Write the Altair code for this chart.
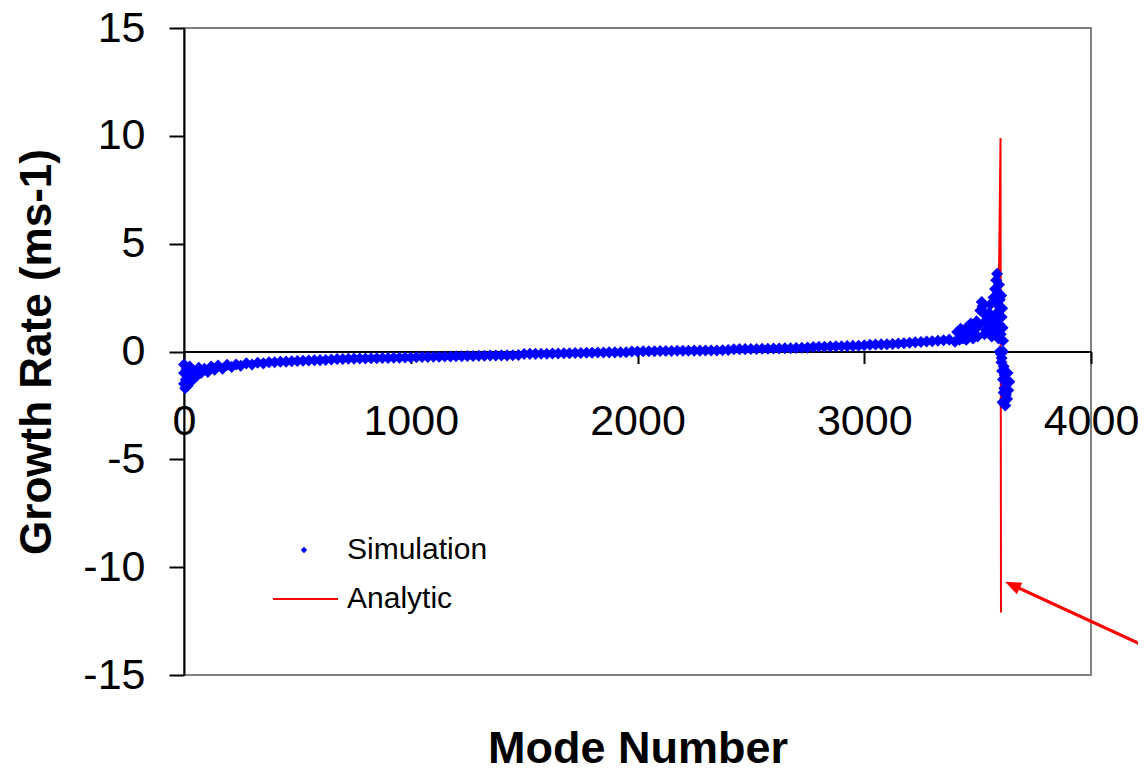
import altair as alt
import pandas as pd

FONT = "Liberation Sans"

# ---- data ----
sim_mode = [
    0, 0, 0, 5, 8, 12, 15, 20, 25, 30, 35, 45, 55, 65, 75, 90, 105, 120, 135, 150,
    170, 190, 210, 230, 250, 275, 300, 325, 350, 375, 400,
    425, 450, 475, 500, 525, 550, 575, 600, 625, 650, 675, 700, 725, 750, 775, 800,
    825, 850, 875, 900, 925, 950, 975, 1000, 1025, 1050, 1075, 1100, 1125, 1150,
    1175, 1200, 1225, 1250, 1275, 1300, 1325, 1350, 1375, 1400, 1425, 1450, 1475,
    1500, 1525, 1550, 1575, 1600, 1625, 1650, 1675, 1700, 1725, 1750, 1775, 1800,
    1825, 1850, 1875, 1900, 1925, 1950, 1975, 2000, 2025, 2050, 2075, 2100, 2125,
    2150, 2175, 2200, 2225, 2250, 2275, 2300, 2325, 2350, 2375, 2400, 2425, 2450,
    2475, 2500, 2525, 2550, 2575, 2600, 2625, 2650, 2675, 2700, 2725, 2750, 2775,
    2800, 2825, 2850, 2875, 2900, 2925, 2950, 2975, 3000, 3025, 3050, 3075, 3100,
    3125, 3150, 3175, 3200, 3225, 3250, 3275, 3300, 3325, 3350, 3375,
    3400, 3410, 3420, 3425, 3435, 3440, 3450, 3455, 3465, 3470, 3480, 3485, 3495,
    3500, 3505, 3512, 3518, 3522, 3526, 3530, 3534, 3538, 3542, 3546, 3550, 3554,
    3558, 3562, 3566, 3570, 3574, 3577, 3580, 3582, 3584, 3586, 3588, 3590, 3592,
    3594, 3596, 3598, 3600, 3602, 3604, 3606, 3608, 3610, 3612,
    3598, 3602, 3605, 3608, 3612, 3615, 3618, 3620, 3625, 3628, 3630, 3622, 3615,
    3610, 3632, 3635, 3640, 3606, 3612,
]
sim_rate = [
    -0.6, -1.0, -1.5, -1.7, -1.3, -0.8, -1.6, -1.2, -0.7, -1.1, -1.35, -0.9, -1.15,
    -0.75, -1.0, -0.8, -0.95, -0.7, -0.85, -0.65, -0.8, -0.62, -0.72, -0.6, -0.66,
    -0.55, -0.6, -0.52, -0.55, -0.5, -0.5,
    -0.47, -0.47, -0.45, -0.44, -0.43, -0.42, -0.41, -0.40, -0.39, -0.37, -0.35,
    -0.35, -0.34, -0.33, -0.32, -0.32, -0.31, -0.31, -0.30, -0.30, -0.29, -0.29,
    -0.28, -0.28, -0.27, -0.25, -0.25, -0.24, -0.24, -0.23, -0.23, -0.22, -0.22,
    -0.21, -0.21, -0.20, -0.20, -0.19, -0.19, -0.18, -0.18, -0.17, -0.16,
    -0.12, -0.11, -0.11, -0.10, -0.10, -0.09, -0.09, -0.08, -0.08, -0.07, -0.07,
    -0.06, -0.06, -0.05, -0.05, -0.04, -0.04, -0.03, -0.03, 0.0, 0.0, 0.01, 0.01,
    0.01, 0.02, 0.02, 0.02, 0.03, 0.03, 0.03, 0.04, 0.04, 0.05, 0.05, 0.05, 0.06,
    0.07, 0.10, 0.11, 0.11, 0.12, 0.12, 0.13, 0.13, 0.14, 0.14, 0.15, 0.15, 0.16,
    0.17, 0.18, 0.21, 0.22, 0.22, 0.23, 0.24, 0.24, 0.25, 0.26, 0.27, 0.29, 0.31,
    0.32, 0.33, 0.34, 0.35, 0.37, 0.38, 0.41, 0.43, 0.44, 0.46, 0.48, 0.50, 0.52,
    0.55,
    0.45, 0.9, 0.55, 1.05, 0.6, 0.95, 0.55, 1.15, 0.7, 1.3, 0.6, 1.0, 1.4,
    0.7, 1.2, 1.9, 2.3, 2.1, 1.8, 0.8, 1.4, 1.0, 1.6, 0.9, 1.8, 1.2,
    2.2, 0.7, 1.5, 2.5, 1.0, 2.9, 1.7, 3.3, 2.2, 3.6, 1.3, 2.7, 0.6,
    3.1, 1.9, 2.4, 1.2, 0.8, 2.6, 1.6, 2.0, 1.1, 0.5,
    0.0, -0.1, -0.5, -0.9, -1.3, -0.7, -1.7, -1.1, -2.0, -1.5, -2.2, -2.5, -1.9,
    -2.35, -1.0, -1.8, -1.4, -0.3, 0.0,
]
ana_mode = [0, 20, 50, 100, 200, 300, 500, 750, 1000, 1250, 1500, 1750, 2000,
            2250, 2500, 2750, 3000, 3200, 3300, 3400, 3450, 3500, 3540, 3570,
            3585, 3594, 3599, 3601, 3603]
ana_rate = [-1.2, -1.0, -0.9, -0.8, -0.68, -0.58, -0.45, -0.34, -0.28, -0.22,
            -0.15, -0.08, -0.01, 0.04, 0.11, 0.18, 0.28, 0.38, 0.44, 0.48, 0.52,
            0.65, 0.95, 1.4, 2.2, 3.3, 8.0, 9.9, -12.1]
series_names = ["Simulation", "Analytic"]
x_ticks = [0, 1000, 2000, 3000, 4000]
y_ticks = [-15, -10, -5, 0, 5, 10, 15]

# annotation arrow (start and head, in data units)
arrow_start = (4243, -13.69)
arrow_head = (3653, -10.83)

sim = pd.DataFrame({"mode": sim_mode, "rate": sim_rate, "series": series_names[0]})
ana = pd.DataFrame({"mode": ana_mode, "rate": ana_rate, "series": series_names[1]})
arrow = pd.DataFrame({"mode": [arrow_start[0]], "rate": [arrow_start[1]],
                      "mode2": [arrow_head[0]], "rate2": [arrow_head[1]]})
head = pd.DataFrame({"mode": [arrow_head[0]], "rate": [arrow_head[1]]})

xscale = alt.Scale(domain=[0, 4000], nice=False, zero=False)
yscale = alt.Scale(domain=[-15, 15], nice=False, zero=False)

xaxis = alt.Axis(
    values=x_ticks, title="Mode Number", offset=-323.5, grid=False,
    domainColor="black", domainWidth=2, tickColor="black", tickWidth=2, tickSize=12,
    labelFont=FONT, labelFontSize=43, labelColor="black", labelPadding=71,
    labelBaseline="alphabetic", labelFlush=False, labelOverlap=False,
    labelExpr="'' + datum.value",
    titleFont=FONT, titleFontSize=45, titleFontWeight="bold", titleColor="black",
    titleY=410.5, titleBaseline="alphabetic",
)
yaxis = alt.Axis(
    values=y_ticks, title="Growth Rate (ms-1)", grid=False,
    domainColor="black", domainWidth=2, tickColor="black", tickWidth=2, tickSize=15,
    labelFont=FONT, labelFontSize=43, labelColor="black", labelPadding=24,
    labelOverlap=False, labelExpr="'' + datum.value",
    titleFont=FONT, titleFontSize=44, titleFontWeight="bold", titleColor="black",
    titleX=-147, titleBaseline="middle",
)

X = alt.X("mode:Q", scale=xscale, axis=xaxis)
Y = alt.Y("rate:Q", scale=yscale, axis=yaxis)

line = alt.Chart(ana).mark_line(strokeWidth=2).encode(
    x=X, y=Y,
    stroke=alt.Stroke(
        "series:N",
        scale=alt.Scale(domain=[series_names[1]], range=["#FF0000"]),
        legend=alt.Legend(
            title=None, orient="none", legendX=88, legendY=537.5, padding=0,
            symbolType="stroke", symbolSize=4225, symbolStrokeWidth=2,
            labelFont=FONT, labelFontSize=30, labelColor="black", labelOffset=8,
        ),
    ),
)

pts = alt.Chart(sim).mark_point(shape="diamond", filled=True, size=145, opacity=1).encode(
    x=X, y=Y,
    fill=alt.Fill(
        "series:N",
        scale=alt.Scale(domain=[series_names[0]], range=["#0000FF"]),
        legend=alt.Legend(
            title=None, orient="none", legendX=105, legendY=507, padding=0,
            symbolType="diamond", symbolSize=40, symbolStrokeWidth=0,
            labelFont=FONT, labelFontSize=30, labelColor="black", labelOffset=28,
        ),
    ),
)

arrow_line = alt.Chart(arrow).mark_rule(color="#FF0000", strokeWidth=3).encode(
    x=X, y=Y, x2="mode2:Q", y2="rate2:Q"
)
arrow_tip = alt.Chart(head).mark_point(
    shape="M0,-1L0.8,1L-0.8,1Z", filled=True, color="#FF0000", size=256,
    angle=295, opacity=1,
).encode(x=X, y=Y)

chart = alt.layer(line, pts, arrow_line, arrow_tip).properties(
    width=907, height=647,
    padding={"left": 176, "top": 20, "right": 47, "bottom": 90},
    autosize=alt.AutoSizeParams(type="none"),
    background="white",
).configure_view(stroke="#808080", strokeWidth=2)

chart.save("out.html", embed_options={"renderer": "svg", "actions": False})
